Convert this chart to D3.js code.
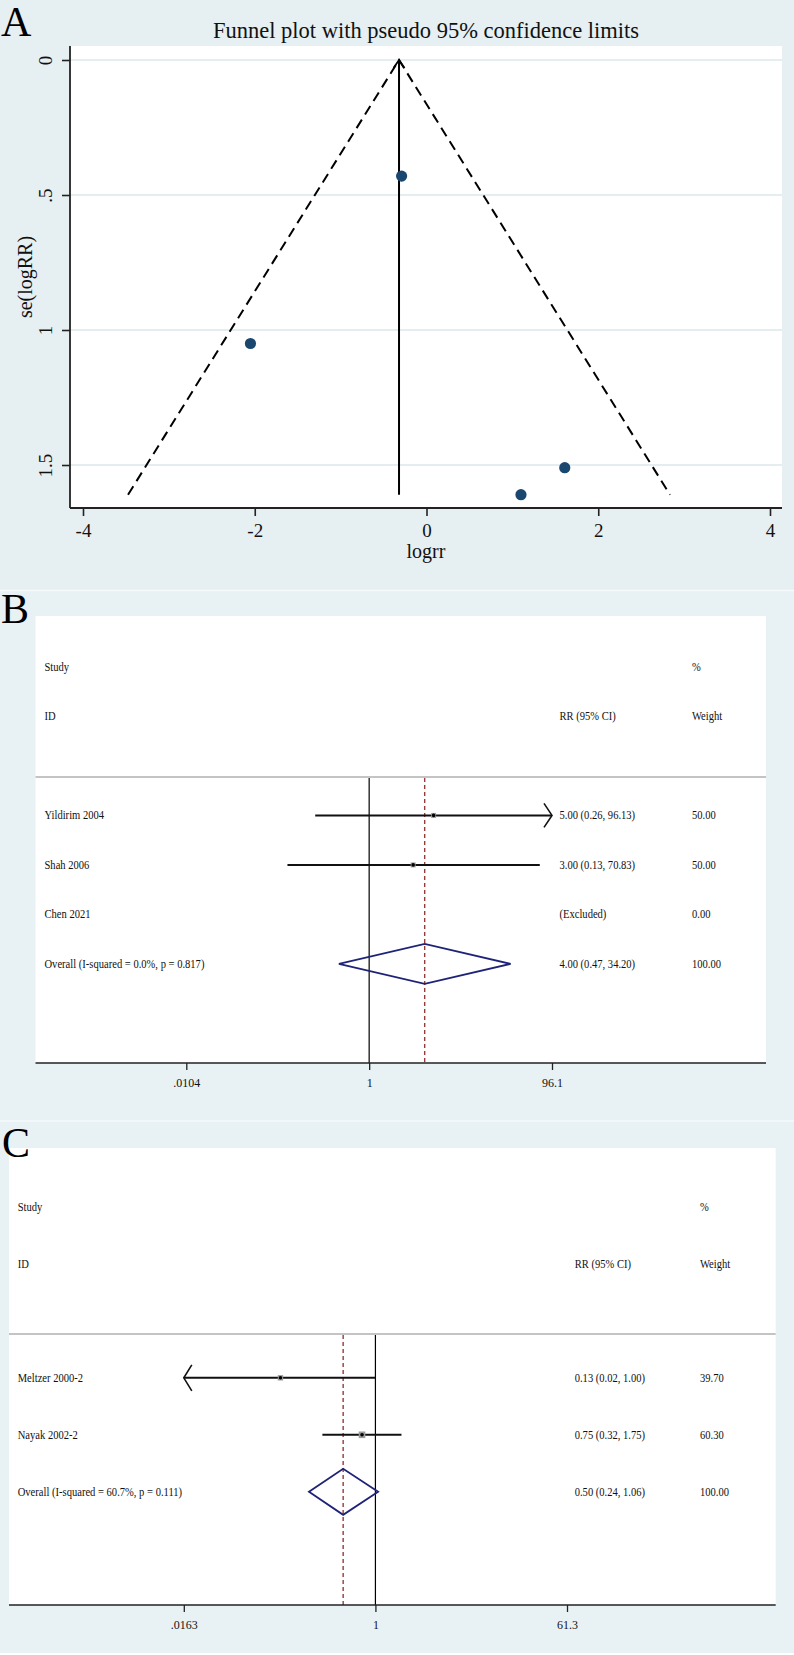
<!DOCTYPE html>
<html><head><meta charset="utf-8">
<script src="https://cdn.jsdelivr.net/npm/d3@7"></script>
<style>
html,body{margin:0;padding:0;background:#fff;}
svg{display:block;}
svg text{font-family:"Liberation Serif","Times New Roman",serif;}
</style>
</head><body>
<svg id="c" width="794" height="1655"></svg>
<script>
// ---------- Panel A: funnel plot data ----------
const funnelLogrr = [-0.29, -2.05, 1.61, 1.10];
const funnelSe = [0.43, 1.05, 1.51, 1.61];
const funnelPooled = -0.32;
const funnelXTicks = [-4, -2, 0, 2, 4];
const funnelXTickLabels = ["-4", "-2", "0", "2", "4"];
const funnelYTicks = [0, 0.5, 1, 1.5];
const funnelYTickLabels = ["0", ".5", "1", "1.5"];

// ---------- Panel B: forest plot data ----------
const studiesB = ["Yildirim 2004", "Shah 2006", "Chen 2021"];
const rrB = [5.00, 3.00, null];
const lowB = [0.26, 0.13, null];
const highB = [96.13, 70.83, null];
const weightB = [50.00, 50.00, 0.00];
const overallLabelB = "Overall  (I-squared = 0.0%, p = 0.817)";
const overallB = [4.00, 0.47, 34.20, 100.00];
const ticksB = [0.0104, 1, 96.1];
const tickLabelsB = [".0104", "1", "96.1"];

// ---------- Panel C: forest plot data ----------
const studiesC = ["Meltzer 2000-2", "Nayak 2002-2"];
const rrC = [0.13, 0.75];
const lowC = [0.0163, 0.32];
const highC = [1.00, 1.75];
const weightC = [39.70, 60.30];
const overallLabelC = "Overall  (I-squared = 60.7%, p = 0.111)";
const overallC = [0.50, 0.24, 1.06, 100.00];
const ticksC = [0.0163, 1, 61.3];
const tickLabelsC = [".0163", "1", "61.3"];

const FONT = "Liberation Serif, Times New Roman, serif";
const BG = "#e8f1f4";
const svg = d3.select("#c").attr("font-family", FONT);

svg.append("rect").attr("width", 794).attr("height", 1655).attr("fill", BG);
svg.append("rect").attr("x", 0).attr("y", 0).attr("width", 794).attr("height", 590).attr("fill", "#e6eff2");
svg.append("line").attr("x1", 0).attr("x2", 794).attr("y1", 590.5).attr("y2", 590.5).attr("stroke", "#f6fafb").attr("stroke-width", 1.5);
svg.append("line").attr("x1", 0).attr("x2", 794).attr("y1", 1121).attr("y2", 1121).attr("stroke", "#f6fafb").attr("stroke-width", 1.5);
svg.append("rect").attr("x", 0).attr("y", 1653).attr("width", 794).attr("height", 2).attr("fill", "#fff");

function stext(g, x, y, str, size, anchor, sx) {
  return g.append("text")
    .attr("transform", `translate(${x},${y}) scale(${sx},1)`)
    .attr("font-family", FONT)
    .attr("font-size", size)
    .attr("text-anchor", anchor || "start")
    .attr("fill", "#111")
    .text(str);
}

// ================= PANEL A =================
(function () {
  const g = svg.append("g");
  const pl = 70, pr = 782, pt = 46, pb = 508;
  const x = d3.scaleLinear().domain([-4, 4]).range([83, 770]);
  const y = d3.scaleLinear().domain([0, 1.5]).range([60, 465]);

  g.append("rect").attr("x", pl).attr("y", pt).attr("width", pr - pl).attr("height", pb - pt).attr("fill", "#fff");

  g.selectAll("line.grid").data(funnelYTicks).join("line")
    .attr("x1", pl).attr("x2", pr).attr("y1", d => y(d)).attr("y2", d => y(d))
    .attr("stroke", "#e4edf0").attr("stroke-width", 2);

  const seMax = d3.max(funnelSe);
  const apex = [x(funnelPooled), y(0)];
  g.append("path")
    .attr("d", d3.line()([[x(funnelPooled - 1.96 * seMax), y(seMax)], apex, [x(funnelPooled + 1.96 * seMax), y(seMax)]]))
    .attr("fill", "none").attr("stroke", "#000").attr("stroke-width", 2).attr("stroke-dasharray", "10,6");
  g.append("line").attr("x1", apex[0]).attr("x2", apex[0]).attr("y1", apex[1]).attr("y2", y(seMax))
    .attr("stroke", "#000").attr("stroke-width", 2);
  g.append("path")
    .attr("d", d3.line()([[apex[0] - 5.5, apex[1] + 8], apex, [apex[0] + 5.5, apex[1] + 8]]))
    .attr("fill", "none").attr("stroke", "#000").attr("stroke-width", 1.8);

  g.selectAll("circle.pt").data(funnelLogrr).join("circle")
    .attr("cx", d => x(d)).attr("cy", (d, i) => y(funnelSe[i])).attr("r", 5.6)
    .attr("fill", "#1a476f");

  const ax = g.append("g").attr("transform", `translate(0,${pb})`)
    .call(d3.axisBottom(x).tickValues(funnelXTicks).tickSize(8).tickPadding(7).tickFormat((d, i) => funnelXTickLabels[i]));
  ax.attr("font-family", FONT);
  ax.select(".domain").remove();
  ax.selectAll("line").attr("stroke", "#222").attr("stroke-width", 1.6);
  ax.selectAll("text").attr("font-size", 19).attr("font-family", FONT).attr("fill", "#111").attr("dy", "0.72em");
  g.append("line").attr("x1", pl).attr("x2", pr).attr("y1", pb).attr("y2", pb).attr("stroke", "#222").attr("stroke-width", 1.8);

  const ay = g.append("g").attr("transform", `translate(${pl},0)`)
    .call(d3.axisLeft(y).tickValues(funnelYTicks).tickSize(8).tickFormat((d, i) => funnelYTickLabels[i]));
  ay.attr("font-family", FONT);
  ay.select(".domain").remove();
  ay.selectAll("line").attr("stroke", "#222").attr("stroke-width", 1.6);
  ay.selectAll("text").attr("font-size", 19).attr("font-family", FONT).attr("fill", "#111")
    .attr("text-anchor", "middle").attr("x", 0).attr("y", -18).attr("dy", 0).attr("transform", "rotate(-90)");
  g.append("line").attr("x1", pl).attr("x2", pl).attr("y1", pt).attr("y2", pb).attr("stroke", "#222").attr("stroke-width", 1.8);

  g.append("text").attr("transform", "translate(32,277) rotate(-90)").attr("text-anchor", "middle")
    .attr("font-family", FONT).attr("font-size", 20).attr("fill", "#111").text("se(logRR)");
  g.append("text").attr("x", 426).attr("y", 558).attr("text-anchor", "middle")
    .attr("font-family", FONT).attr("font-size", 20).attr("fill", "#111").text("logrr");
  g.append("text").attr("x", 426).attr("y", 37.5).attr("text-anchor", "middle")
    .attr("font-family", FONT).attr("font-size", 22.5).attr("fill", "#111").text("Funnel plot with pseudo 95% confidence limits");
  g.append("text").attr("x", 1).attr("y", 36).attr("font-family", FONT).attr("font-size", 42).attr("fill", "#000").text("A");
})();

// ================= FOREST PLOTS =================
function drawForest(cfg) {
  const g = svg.append("g");
  const fs = 12, sx = 0.88;
  g.append("rect").attr("x", cfg.x0).attr("y", cfg.y0).attr("width", cfg.x1 - cfg.x0).attr("height", cfg.axisY - cfg.y0).attr("fill", "#fff");
  const x = d3.scaleLog().domain([cfg.ticks[0], cfg.ticks[cfg.ticks.length - 1]]).range(cfg.xRange);
  const row = d3.scaleLinear().domain([0, 1]).range([cfg.row0, cfg.row0 + cfg.step]);
  const n = cfg.studies.length;

  stext(g, cfg.labelX, row(-3) + 4, "Study", fs, "start", sx);
  stext(g, cfg.labelX, row(-2) + 4, "ID", fs, "start", sx);
  stext(g, cfg.colRR, row(-2) + 4, "RR (95% CI)", fs, "start", sx);
  stext(g, cfg.colW, row(-3) + 4, "%", fs, "start", sx);
  stext(g, cfg.colW, row(-2) + 4, "Weight", fs, "start", sx);

  g.append("line").attr("x1", cfg.x0).attr("x2", cfg.x1).attr("y1", cfg.grayY).attr("y2", cfg.grayY)
    .attr("stroke", "#c4c4c4").attr("stroke-width", 2);

  g.append("line").attr("x1", x(1)).attr("x2", x(1)).attr("y1", cfg.grayY + 1).attr("y2", cfg.axisY)
    .attr("stroke", "#000").attr("stroke-width", 1.2);
  g.append("line").attr("x1", x(cfg.overall[0])).attr("x2", x(cfg.overall[0])).attr("y1", cfg.grayY + 1).attr("y2", cfg.axisY)
    .attr("stroke", "#973a3a").attr("stroke-width", 1.4).attr("stroke-dasharray", "4,3");

  const dmin = cfg.ticks[0], dmax = cfg.ticks[cfg.ticks.length - 1];
  cfg.studies.forEach((s, i) => {
    const yy = row(i);
    stext(g, cfg.labelX, yy + 4, s, fs, "start", sx);
    stext(g, cfg.colW, yy + 4, cfg.weight[i].toFixed(2), fs, "start", sx);
    if (cfg.rr[i] == null) {
      stext(g, cfg.colRR, yy + 4, "(Excluded)", fs, "start", sx);
      return;
    }
    stext(g, cfg.colRR, yy + 4, `${cfg.rr[i].toFixed(2)} (${cfg.low[i].toFixed(2)}, ${cfg.high[i].toFixed(2)})`, fs, "start", sx);
    const lo = Math.max(cfg.low[i], dmin), hi = Math.min(cfg.high[i], dmax);
    g.append("line").attr("x1", x(lo)).attr("x2", x(hi)).attr("y1", yy).attr("y2", yy)
      .attr("stroke", "#111").attr("stroke-width", 2);
    if (cfg.high[i] >= dmax * 0.999) {
      g.append("path").attr("d", d3.line()([[x(dmax) - 8, yy - 12], [x(dmax), yy], [x(dmax) - 8, yy + 12]]))
        .attr("fill", "none").attr("stroke", "#111").attr("stroke-width", 1.6);
    }
    if (cfg.low[i] <= dmin * 1.001) {
      g.append("path").attr("d", d3.line()([[x(dmin) + 8, yy - 13], [x(dmin), yy], [x(dmin) + 8, yy + 13]]))
        .attr("fill", "none").attr("stroke", "#111").attr("stroke-width", 1.6);
    }
    const side = cfg.boxK * Math.sqrt(cfg.weight[i]);
    g.append("rect").attr("x", x(cfg.rr[i]) - side / 2).attr("y", yy - side / 2).attr("width", side).attr("height", side)
      .attr("fill", "#9a9a9a");
    g.append("circle").attr("cx", x(cfg.rr[i])).attr("cy", yy).attr("r", 1.8).attr("fill", "#000");
  });

  const yo = row(n);
  stext(g, cfg.labelX, yo + 4, cfg.overallLabel, fs, "start", sx);
  const o = cfg.overall;
  stext(g, cfg.colRR, yo + 4, `${o[0].toFixed(2)} (${o[1].toFixed(2)}, ${o[2].toFixed(2)})`, fs, "start", sx);
  stext(g, cfg.colW, yo + 4, o[3].toFixed(2), fs, "start", sx);
  g.append("path")
    .attr("d", d3.line()([[x(o[1]), yo], [x(o[0]), yo - cfg.dh], [x(o[2]), yo], [x(o[0]), yo + cfg.dh]]) + "Z")
    .attr("fill", "none").attr("stroke", "#1f2378").attr("stroke-width", 1.8);

  const ax = g.append("g").attr("transform", `translate(0,${cfg.axisY})`)
    .call(d3.axisBottom(x).tickValues(cfg.ticks).tickSize(7).tickPadding(8).tickFormat((d, i) => cfg.tickLabels[i]));
  ax.attr("font-family", FONT);
  ax.select(".domain").remove();
  ax.selectAll("line").attr("stroke", "#222").attr("stroke-width", 1.3);
  ax.selectAll("text").attr("font-size", fs).attr("font-family", FONT).attr("fill", "#111");
  g.append("line").attr("x1", cfg.x0).attr("x2", cfg.x1).attr("y1", cfg.axisY).attr("y2", cfg.axisY)
    .attr("stroke", "#222").attr("stroke-width", 1.6);

  g.append("text").attr("x", cfg.letterX).attr("y", cfg.letterY).attr("font-family", FONT).attr("font-size", 42).attr("fill", "#000").text(cfg.letter);
}

drawForest({
  letter: "B", letterX: 1, letterY: 623,
  x0: 35.5, x1: 766, y0: 616, axisY: 1063,
  row0: 815.4, step: 49.5, grayY: 777,
  xRange: [186.3, 552], colRR: 559.5, colW: 692, labelX: 44.5, dh: 20, boxK: 0.7,
  studies: studiesB, rr: rrB, low: lowB, high: highB, weight: weightB,
  overallLabel: overallLabelB, overall: overallB, ticks: ticksB, tickLabels: tickLabelsB
});

drawForest({
  letter: "C", letterX: 2, letterY: 1157,
  x0: 9, x1: 775.7, y0: 1148, axisY: 1605,
  row0: 1377.8, step: 57, grayY: 1334,
  xRange: [183.8, 567], colRR: 574.7, colW: 700, labelX: 17.7, dh: 23, boxK: 0.85,
  studies: studiesC, rr: rrC, low: lowC, high: highC, weight: weightC,
  overallLabel: overallLabelC, overall: overallC, ticks: ticksC, tickLabels: tickLabelsC
});
</script>
</body></html>
